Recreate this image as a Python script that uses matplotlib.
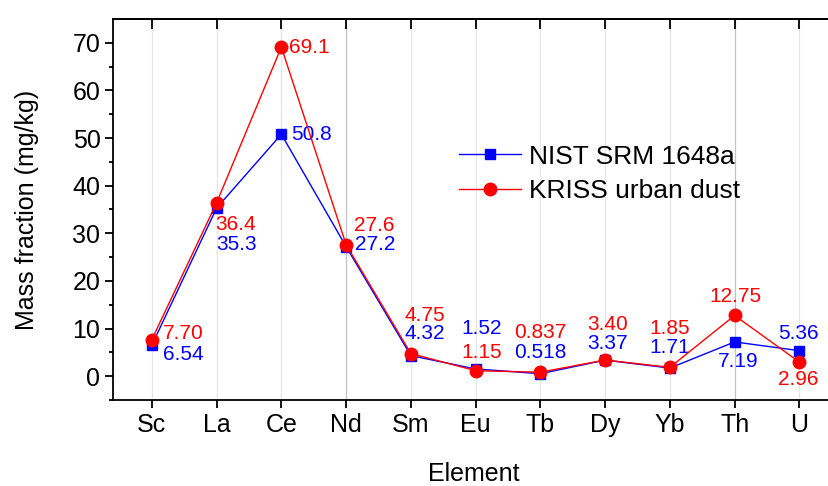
import numpy as np
import matplotlib.pyplot as plt

# данные
elements = ["Sc", "La", "Ce", "Nd", "Sm", "Eu", "Tb", "Dy", "Yb", "Th", "U"]
nist = [6.54, 35.3, 50.8, 27.2, 4.32, 1.52, 0.518, 3.37, 1.71, 7.19, 5.36]
kriss = [7.70, 36.4, 69.1, 27.6, 4.75, 1.15, 0.837, 3.40, 1.85, 12.75, 2.96]
nist_txt = ["6.54", "35.3", "50.8", "27.2", "4.32", "1.52", "0.518", "3.37", "1.71", "7.19", "5.36"]
kriss_txt = ["7.70", "36.4", "69.1", "27.6", "4.75", "1.15", "0.837", "3.40", "1.85", "12.75", "2.96"]

# смещения подписей (пиксели) и выравнивание
nist_off = [(11, -9, "left"), (0, -36, "left"), (10, 0, "left"), (9, 2, "left"),
            (14, 22, "center"), (6, 40, "center"), (0, 21, "center"), (2, 17, "center"),
            (0, 21, "center"), (4, -20, "center"), (-1, 17, "center")]
kriss_off = [(11, 6, "left"), (-1, -22, "left"), (8, 0, "left"), (8, 19, "left"),
             (14, 38, "center"), (6, 18, "center"), (0, 40, "center"), (2, 35, "center"),
             (0, 39, "center"), (1, 19, "center"), (-1, -17, "center")]

plt.rcParams['font.family'] = ['Liberation Sans', 'DejaVu Sans']

fig = plt.figure(figsize=(8.29, 4.86), dpi=100)
ax = fig.add_axes([113 / 829, 1 - 400 / 486, (835 - 113) / 829, (400 - 19) / 486])

x = np.arange(len(elements))

# вертикальная сетка
for i in x:
    c = '#c4c0c8' if i in (3, 9) else '#e6e6e6'
    ax.axvline(i, color=c, lw=0.9, zorder=0)

ax.plot(x, nist, '-s', color='blue', lw=1.0, ms=7.5, label="NIST SRM 1648a", zorder=3)
ax.plot(x, kriss, '-o', color='red', lw=1.0, ms=9, label="KRISS urban dust", zorder=4)

for i in x:
    dx, dy, ha = nist_off[i]
    ax.annotate(nist_txt[i], (x[i], nist[i]), xytext=(dx, dy), textcoords='offset pixels',
                ha=ha, va='center', color='blue', fontsize=15)
    dx, dy, ha = kriss_off[i]
    ax.annotate(kriss_txt[i], (x[i], kriss[i]), xytext=(dx, dy), textcoords='offset pixels',
                ha=ha, va='center', color='red', fontsize=15)

ax.set_xlim(-0.6, 10.55)
ax.set_ylim(-5, 75)
ax.set_xticks(x)
ax.set_xticklabels(elements)
ax.set_yticks(np.arange(0, 71, 10))
ax.set_yticks(np.arange(-5, 75, 5), minor=True)
ax.tick_params(axis='both', which='major', labelsize=18, length=6, width=1.3, direction='out', pad=3)
ax.tick_params(axis='y', which='minor', length=3, width=1.3, direction='out')
ax.tick_params(axis='x', which='minor', bottom=False)

# верхняя и правая оси: засечки внутрь
top = ax.secondary_xaxis('top')
top.set_xticks(x)
top.tick_params(direction='in', length=7, width=1.3, labeltop=False)
right = ax.secondary_yaxis('right')
right.set_yticks(np.arange(0, 71, 10))
right.tick_params(direction='in', length=5, width=1.3, labelright=False)

for s in ax.spines.values():
    s.set_linewidth(1.3)
top.spines['top'].set_linewidth(1.3)
right.spines['right'].set_linewidth(1.3)

ax.set_xlabel("Element", fontsize=18, labelpad=18)
ax.set_ylabel("Mass fraction (mg/kg)", fontsize=18, labelpad=24)

ax.legend(loc='upper left', bbox_to_anchor=(0.461, 0.705), frameon=False, fontsize=19,
          handlelength=2.35, handletextpad=0.3, labelspacing=0.4, borderpad=0)

fig.savefig("out.png", dpi=100)
